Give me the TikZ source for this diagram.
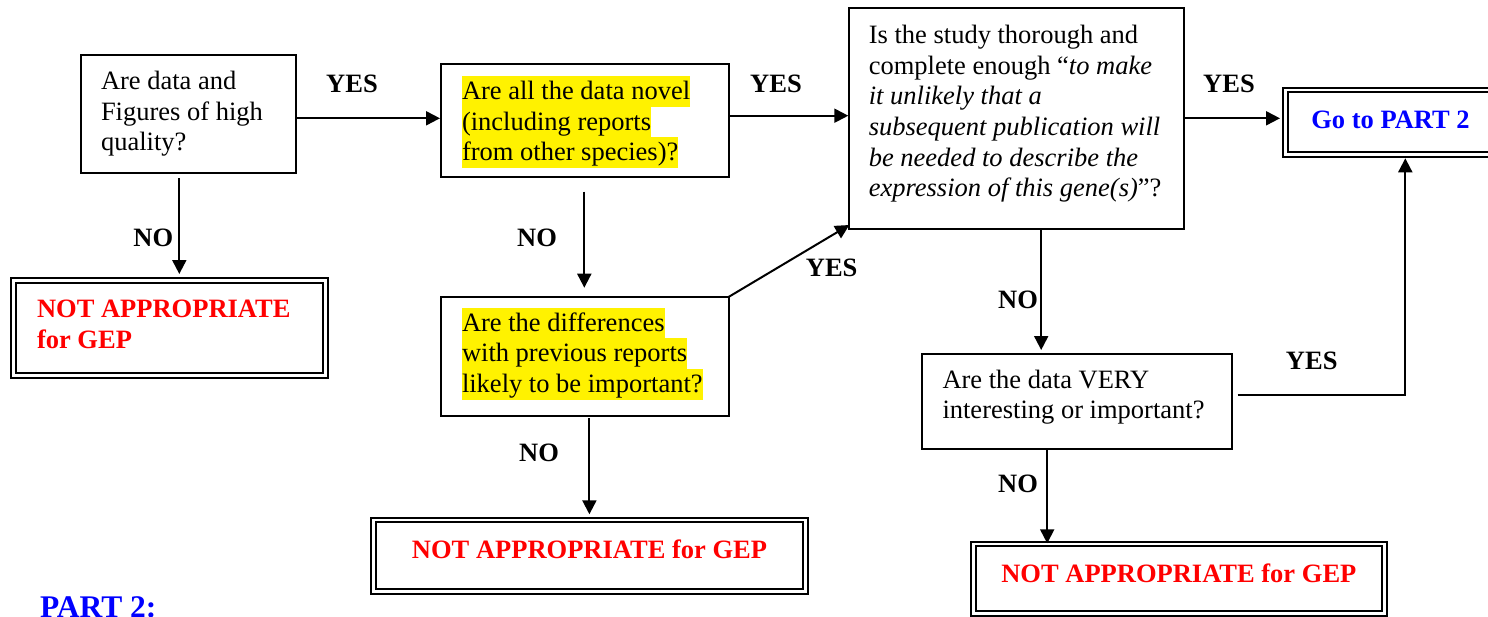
\documentclass[tikz,border=0pt]{standalone}
\usepackage{fontspec}
\setmainfont{Liberation Serif}
\usetikzlibrary{arrows.meta}
\newcommand{\hl}[1]{{\setlength{\fboxsep}{0pt}\colorbox{yellow}{\rule[-7.3pt]{0pt}{30.6pt}#1}}}

\begin{document}
\begin{tikzpicture}[x=1pt,y=-1pt,>={Triangle[length=14pt,width=14pt]},line width=2pt]
\fontsize{26.5}{30.7}\selectfont
\tikzstyle{question}=[draw=black,line width=2pt,outer sep=0pt,inner ysep=0pt,anchor=north west,align=flush left]
\tikzstyle{verdict}=[draw=black,line width=2pt,double,double distance=2.6pt,outer sep=0pt,inner ysep=0pt,inner xsep=10pt,anchor=north west,align=flush center,font=\bfseries]
\tikzstyle{answer}=[anchor=base,inner sep=0pt,font=\bfseries]
\useasboundingbox (0,0) rectangle (1488,616);
\node[question,text width=175pt,inner xsep=20pt,text height=34.3pt,text depth=83.7pt] (A) at (81,55) {Are data and\\ Figures of high\\ quality?};
\node[question,text width=245.5pt,inner xsep=21pt,text height=35.3pt,text depth=77.7pt] (B) at (441,64) {\hl{Are all the data novel}\\ \hl{(including reports}\\ \hl{from other species)?}};
\node[question,text width=245.5pt,inner xsep=21pt,text height=34pt,text depth=84.5pt] (D) at (441,297) {\hl{Are the differences}\\ \hl{with previous reports}\\ \hl{likely to be important?}};
\node[question,text width=296pt,inner xsep=19.5pt,text height=35pt,text depth=186pt] (C) at (849.3,8.3) {Is the study thorough and\\ complete enough “\textit{to make}\\ \textit{it unlikely that a}\\ \textit{subsequent publication will}\\ \textit{be needed to describe the}\\ \textit{expression of this gene(s)}”?};
\node[question,text width=268.9pt,inner xsep=21pt,text height=34.3pt,text depth=61.2pt] (E) at (921.5,353.7) {Are the data VERY\\ interesting or important?};
\node[verdict,align=flush left,text width=265pt,inner xsep=23.7pt,text height=37.4pt,text depth=58pt,text=red] (NA1) at (13.3,280.3) {NOT APPROPRIATE\\ for GEP};
\node[verdict,text width=412.4pt,text height=38.3pt,text depth=33.4pt,text=red] (NA2) at (373.3,520) {NOT APPROPRIATE for GEP};
\node[verdict,text width=391.1pt,text height=38.7pt,text depth=30.6pt,text=red] (NA3) at (973.3,544) {NOT APPROPRIATE for GEP};
\node[verdict,text width=190.4pt,text height=38.3pt,text depth=26.1pt,text=blue] (Go) at (1285.3,90) {Go to PART 2};
\node[answer] (yesAB) at (352,92.7) {YES};
\node[answer] (yesBC) at (776,92.7) {YES};
\node[answer] (yesDC) at (831.7,276.7) {YES};
\node[answer] (yesCG) at (1229,92.7) {YES};
\node[answer] (yesEG) at (1311.7,369.3) {YES};
\node[answer] (noA) at (153.3,246) {NO};
\node[answer] (noB) at (537,246) {NO};
\node[answer] (noD) at (539,461) {NO};
\node[answer] (noC) at (1018,308.3) {NO};
\node[answer] (noE) at (1018,492.3) {NO};
\node[anchor=base west,inner sep=0pt,font=\fontsize{31.5}{36}\selectfont\bfseries,text=blue] (part) at (39,617.5) {PART 2:};
\draw[->,shorten >=1pt] (A.east |- 0,118.3) -- (B.west |- 0,118.3);
\draw[->,shorten >=1pt] (B.east |- 0,115.7) -- (C.west |- 0,115.7);
\draw[->] (D.north east) -- ([yshift=4.3pt]C.south west);
\draw[->,shorten >=5.3pt] (C.east |- 0,118.3) -- (Go.west |- 0,118.3);
\draw[->,shorten <=5pt,shorten >=6.3pt] (A.south -| 179.3,0) -- (NA1.north -| 179.3,0);
\draw[->,shorten <=14.7pt,shorten >=9.3pt] (B.south -| 584.3,0) -- (D.north -| 584.3,0);
\draw[->,shorten <=2.8pt,shorten >=5.7pt] (D.south -| 589.4,0) -- (NA2.north -| 589.4,0);
\draw[->,shorten >=3.7pt] (C.south -| 1041.2,0) -- (E.north -| 1041.2,0);
\draw[->,shorten <=0.8pt,shorten >=0.7pt] (E.south -| 1047.2,0) -- (NA3.north -| 1047.2,0);
\draw[->,shorten <=5.1pt,shorten >=3.9pt] (E.east |- 0,395) -| (Go.south -| 1405.3,0);
\end{tikzpicture}
\end{document}
